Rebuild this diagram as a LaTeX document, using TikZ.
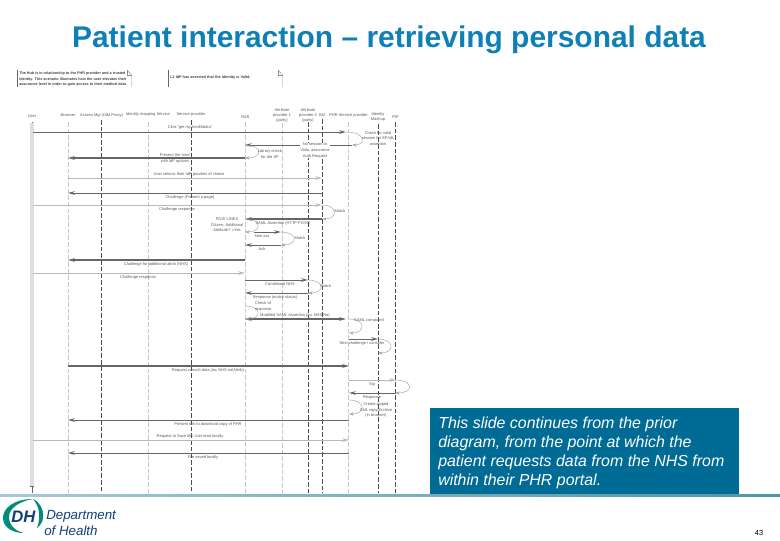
\documentclass[tikz,border=0pt]{standalone}
\usepackage{fontspec}
\setmainfont{Liberation Sans}
\usepackage{xcolor}
\usetikzlibrary{arrows.meta,calc}
\definecolor{titleclr}{RGB}{14,128,184}
\definecolor{boxclr}{RGB}{0,107,148}
\definecolor{navyclr}{RGB}{18,62,120}
\definecolor{greenclr}{RGB}{0,140,120}
\definecolor{ruleclr}{RGB}{80,150,165}
\tikzset{
  head/.style={font=\fontsize{3}{3.6}\selectfont,text=black!65,align=center,inner sep=0pt},
  lbl/.style={font=\fontsize{3}{4.2}\selectfont,text=black!65,align=center,inner sep=0pt},
  lifedark/.style={dash pattern=on 3.5pt off 1.5pt,black!70,line width=0.45pt},
  lifelight/.style={dash pattern=on 3.5pt off 1.5pt,black!22,line width=0.4pt},
  msg/.style={-{Stealth[length=1.8mm,width=1mm,open]},black!60,line width=0.6pt},
  msgthin/.style={-{Stealth[length=1.8mm,width=1mm,open]},black!28,line width=0.45pt},
  loopline/.style={-{Stealth[length=1.2mm,width=0.8mm,open]},black!40,line width=0.3pt},
}
\begin{document}
\begin{tikzpicture}[x=0.75pt,y=-0.75pt]
\useasboundingbox (0,0) rectangle (780,540);

\node[text=titleclr,font=\fontsize{22.45}{25}\bfseries\selectfont,inner sep=0pt] (title) at (389,39.5)
      {Patient interaction -- retrieving personal data};

% note fragments above the chart
\node[font=\fontsize{2.8}{3.9}\bfseries\selectfont,text=black!75,align=left,anchor=north west,inner sep=0pt] (note1) at (19,72)
      {The Hub is in relationship to the PHR provider and a trusted\\identity. This scenario illustrates how the user elevates their\\assurance level in order to gain access to their medical data};
\node[font=\fontsize{2.85}{4}\bfseries\selectfont,text=black!75,anchor=west,inner sep=0pt] (note2) at (170,78)
      {L1 IdP has asserted that the identity is Valid.};
\coordinate (n1a) at (17.5,70); \coordinate (n1b) at (17.5,87);
\coordinate (n1c) at (131.5,75); \coordinate (n1d) at (131.5,87);
\coordinate (n1e) at (127,70); \coordinate (n2a) at (168.5,70);
\coordinate (n2b) at (168.5,87); \coordinate (n2c) at (282.5,75);
\coordinate (n2d) at (282.5,87); \coordinate (n2e) at (278,70);
\draw[black!60,line width=0.35pt] (n1a) -- (n1b);
\draw[black!45,line width=0.35pt] (n1e) -- (n1c) -- (n1d);
\draw[black!45,line width=0.35pt] (n1e) |- (n1c);
\draw[black!60,line width=0.35pt] (n2a) -- (n2b);
\draw[black!45,line width=0.35pt] (n2e) -- (n2c) -- (n2d);
\draw[black!45,line width=0.35pt] (n2e) |- (n2c);

% lifeline heads
\node[head] (user) at (32,116) {User};
\node[head] (browser) at (68,115.5) {Browser};
\node[head] (access) at (101.5,115) {Access Mgr (IdM Proxy)};
\node[head] (mapping) at (148,114.5) {Identity mapping Service};
\node[head] (sp) at (191,114.5) {Service provider};
\node[head] (hub) at (245,117) {HUB};
\node[head] (attra) at (282,115.5) {Attribute\\provider 1\\(party)};
\node[head] (attrb) at (308,115.5) {Attribute\\provider 2\\(party)};
\node[head] (em) at (322,115) {EM};
\node[head] (phr) at (348.5,115) {PHR Service provider};
\node[head] (mash) at (378,117) {Identity\\Mashup};
\node[head] (pip) at (395.5,117) {PIP};

\coordinate (footuser) at (32,493);
\fill[black!13] (30,123) rectangle (34,486);
\draw[black!60,line width=0.4pt] (30,486) -- (34,486);
\draw[black!60,line width=0.4pt] (32,122) -- (32,123);
\draw[black!60,line width=0.4pt] (32,486) -- (footuser);
\foreach \nm/\yy in {browser/122,mapping/122,hub/122,attra/123,phr/122}
  \draw[lifelight] ($(\nm.south |- 0,\yy)$) -- ($(\nm.south |- 0,493)$);
\foreach \nm/\yy in {access/120,sp/120,attrb/122,em/119,mash/124,pip/122}
  \draw[lifedark] ($(\nm.south |- 0,\yy)$) -- ($(\nm.south |- 0,493)$);

% messages
\coordinate (m1a) at (33,132); \coordinate (m1b) at (346,132);
\draw[msg] (m1a) -- (m1b);
\node[lbl] (l1) at (190,127.5) {Click ``get my healthdata''};
\coordinate (m2a) at (352,145); \coordinate (m2b) at (245,145);
\draw[msg] (m2a) -- (m2b);
\node[lbl,fill=white] (l2) at (315,150.5) {No session or\\Voila, assurance\\Auth Request};
\coordinate (m3a) at (245,158); \coordinate (m3b) at (68,158);
\draw[msg,line width=0.9pt] (m3a) -- (m3b);
\node[lbl] (l3) at (175,158.5) {Present the User\\with IdP options};
\coordinate (m4a) at (68,178); \coordinate (m4b) at (322,178);
\draw[msgthin] (m4a) -- (m4b);
\node[lbl] (l4) at (189,174) {User selects their IdP provider of choice};
\coordinate (m5a) at (322,193); \coordinate (m5b) at (68,193);
\draw[msg] (m5a) -- (m5b);
\node[lbl] (l5) at (190,197) {Challenge (Present a page)};
\coordinate (m6a) at (33,205); \coordinate (m6b) at (322,205);
\draw[msgthin] (m6a) -- (m6b);
\node[lbl] (l6) at (177,209) {Challenge response};
\coordinate (m7a) at (322,219); \coordinate (m7b) at (245,219);
\draw[msg,line width=0.9pt] (m7a) -- (m7b);
\node[lbl] (l7) at (283,223) {SAML Assertion (HTTP POST)};
\coordinate (m8a) at (254,232); \coordinate (m8b) at (281,232);
\draw[msg] (m8a) -- (m8b);
\node[lbl] (l8) at (262,236) {Item xxx};
\coordinate (m9a) at (281,245); \coordinate (m9b) at (245,245);
\draw[msg] (m9a) -- (m9b);
\node[lbl] (l9) at (262,249.5) {Ack};
\coordinate (m10a) at (245,260); \coordinate (m10b) at (68,260);
\draw[msg,line width=0.9pt] (m10a) -- (m10b);
\node[lbl] (l10) at (156,264) {Challenge for additional attrib (NHS)};
\coordinate (m11a) at (33,273); \coordinate (m11b) at (245,273);
\draw[msgthin] (m11a) -- (m11b);
\node[lbl] (l11) at (138,277) {Challenge response};
\coordinate (m12a) at (245,280); \coordinate (m12b) at (308,280);
\draw[msg] (m12a) -- (m12b);
\node[lbl] (l12) at (280,284) {Conditional NHS};
\coordinate (m13a) at (308,293); \coordinate (m13b) at (245,293);
\draw[msg] (m13a) -- (m13b);
\node[lbl] (l13) at (275,297.5) {Response (match status)};
\coordinate (m14a) at (245,319); \coordinate (m14b) at (346,319);
\draw[{Stealth[length=1.8mm,width=1mm,open]}-{Stealth[length=1.8mm,width=1mm,open]},black!60,line width=0.8pt] (m14a) -- (m14b);
\node[lbl] (l14) at (295,315) {Modified SAML Assertion (inc NHS No)};
\coordinate (m15a) at (349,339); \coordinate (m15b) at (378,339);
\draw[msg] (m15a) -- (m15b);
\node[lbl] (l15) at (362,343.5) {Next challenge / consider};
\coordinate (m16a) at (68,366); \coordinate (m16b) at (349,366);
\draw[msg,line width=0.9pt] (m16a) -- (m16b);
\node[lbl] (l16) at (208,370.5) {Request consult data (inc NHS no/Attrib)};
\coordinate (m17a) at (349,380); \coordinate (m17b) at (396,380);
\draw[msgthin] (m17a) -- (m17b);
\node[lbl] (l17) at (372,384) {Sig};
\coordinate (m18a) at (396,393); \coordinate (m18b) at (349,393);
\draw[msg] (m18a) -- (m18b);
\node[lbl] (l18) at (372,397.5) {Response};
\coordinate (m19a) at (349,420); \coordinate (m19b) at (68,420);
\draw[msg] (m19a) -- (m19b);
\node[lbl] (l19) at (208,424) {Present link to download copy of PHR};
\coordinate (m20a) at (33,440); \coordinate (m20b) at (349,440);
\draw[msgthin] (m20a) -- (m20b);
\node[lbl] (l20) at (190,436) {Request to Save file/ Just read locally};
\coordinate (m21a) at (349,453); \coordinate (m21b) at (68,453);
\draw[msg] (m21a) -- (m21b);
\node[lbl] (l21) at (203,457.5) {File saved locally};

% self calls
\coordinate (s1a) at (346,132); \coordinate (s1b) at (352,145);
\draw[loopline] (s1a) .. controls (366,132) and (366,145) .. (s1b);
\node[lbl] (t1) at (378,138.5) {Check for valid\\session for SP/IdL\\assertion};
\coordinate (s2a) at (245,145); \coordinate (s2b) at (245,158);
\draw[loopline] (s2a) .. controls (263,145) and (263,158) .. (s2b);
\node[lbl] (t2) at (270,154) {Library check\\for the SP};
\coordinate (s3a) at (322,205); \coordinate (s3b) at (322,219);
\draw[loopline] (s3a) .. controls (338,205) and (338,219) .. (s3b);
\node[lbl] (t3) at (340,211.5) {Match};
\coordinate (s4a) at (245,219); \coordinate (s4b) at (245,232);
\draw[loopline] (s4a) .. controls (262,219) and (262,232) .. (s4b);
\node[lbl] (t4) at (227,225) {POID LINKS\\Citizen: Additional\\Attribute? =Yes};
\coordinate (s5a) at (281,232); \coordinate (s5b) at (281,245);
\draw[loopline] (s5a) .. controls (298,232) and (298,245) .. (s5b);
\node[lbl] (t5) at (300,238.5) {Match};
\coordinate (s6a) at (308,280); \coordinate (s6b) at (308,293);
\draw[loopline] (s6a) .. controls (325,280) and (325,293) .. (s6b);
\node[lbl] (t6) at (326,286.5) {Match};
\coordinate (s7a) at (245,306); \coordinate (s7b) at (245,319);
\draw[loopline] (s7a) .. controls (262,306) and (262,319) .. (s7b);
\node[lbl] (t7) at (263,306.5) {Check of\\response};
\coordinate (s8a) at (349,319); \coordinate (s8b) at (349,333);
\draw[loopline] (s8a) .. controls (366,319) and (366,333) .. (s8b);
\node[lbl] (t8) at (369,320) {SAML computed};
\coordinate (s9a) at (378,339); \coordinate (s9b) at (378,353);
\draw[loopline] (s9a) .. controls (395,339) and (395,353) .. (s9b);
\coordinate (s10a) at (395,380); \coordinate (s10b) at (395,393);
\draw[loopline] (s10a) .. controls (414,380) and (414,393) .. (s10b);
\coordinate (s11a) at (349,400); \coordinate (s11b) at (349,414);
\draw[loopline] (s11a) .. controls (366,400) and (366,414) .. (s11b);
\node[lbl] (t11) at (376,410) {Create zipped\\XML copy/Archive\\(in browser)};

% footer
\shade[left color=ruleclr!50,right color=ruleclr] (0,494.5) rectangle (780,496.5);
\node[fill=boxclr,text=white,minimum width=309*0.75pt,minimum height=86*0.75pt,anchor=north west,
      inner sep=0pt] (box) at (430,408) {};
\node[text=white,font=\fontsize{11.95}{14.3}\itshape\selectfont,align=left,anchor=north west,inner sep=0pt] (boxtext) at (438,416.5)
      {This slide continues from the prior\\diagram, from the point at which the\\patient requests data from the NHS from\\within their PHR portal.};
\fill[greenclr] (33,499) .. controls (14,499) and (3,508) .. (3,518)
      .. controls (3,527) and (12,533) .. (24,533)
      .. controls (15,531) and (9,525) .. (9,517)
      .. controls (9,508) and (20,501) .. cycle;
\fill[greenclr] (33,499) .. controls (40,502) and (44,510) .. (43,517)
      .. controls (43,521) and (41,525) .. (37,528)
      .. controls (40,520) and (41,508) .. cycle;
\node[text=navyclr,font=\fontsize{12.5}{13}\bfseries\itshape\selectfont,inner sep=0pt] (dh) at (23.5,517) {DH};
\node[text=navyclr,font=\fontsize{10}{10.5}\itshape\selectfont,anchor=west,inner sep=0pt] (dept) at (46,516.5) {Department};
\node[text=navyclr,font=\fontsize{10}{10.5}\itshape\selectfont,anchor=west,inner sep=0pt] (health) at (44,530.5) {of Health};
\node[text=black,font=\fontsize{5.5}{6}\selectfont,inner sep=0pt] (page) at (759,533) {43};
\end{tikzpicture}
\end{document}
